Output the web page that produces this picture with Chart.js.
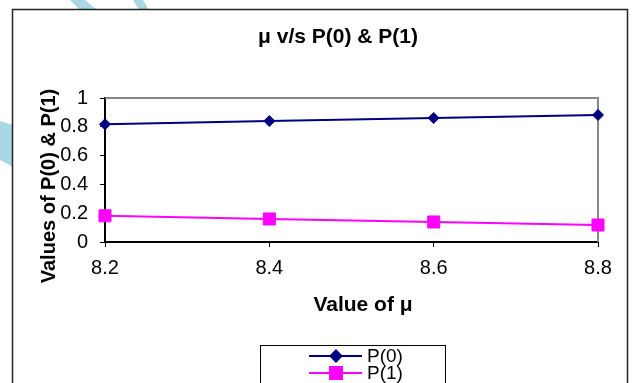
<!DOCTYPE html>
<html>
<head>
<meta charset="utf-8">
<script src="https://cdn.jsdelivr.net/npm/chart.js@4.4.1/dist/chart.umd.min.js"></script>
<style>
  html, body { margin: 0; padding: 0; background: #fff; }
  #wrap { width: 632px; height: 383px; }
</style>
</head>
<body>
<div id="wrap"><canvas id="muChart" width="632" height="383"></canvas></div>
<script>
var muValues = ['8.2', '8.4', '8.6', '8.8'];
var p0Values = [0.818, 0.840, 0.861, 0.882];
var p1Values = [0.182, 0.160, 0.139, 0.118];
var yTicks = [0, 0.2, 0.4, 0.6, 0.8, 1];

var chartTitle = 'μ v/s P(0) & P(1)';
var xTitle = 'Value of μ';
var yTitle = 'Values of P(0) & P(1)';

var FONT = 'Arial, "Liberation Sans", sans-serif';

// frame, background swoosh, titles and the boxed legend
var decor = {
    id: 'decor',
    beforeDraw: function(chart) {
        var ctx = chart.ctx;
        ctx.save();
        ctx.fillStyle = '#fff';
        ctx.fillRect(0, 0, chart.width, chart.height);
        ctx.fillStyle = '#a9d7e4';
        ctx.beginPath();
        ctx.moveTo(70, 0); ctx.lineTo(85, 0); ctx.lineTo(97, 10); ctx.lineTo(80, 10);
        ctx.closePath(); ctx.fill();
        ctx.beginPath();
        ctx.moveTo(133, 0); ctx.lineTo(143, 0); ctx.lineTo(149, 10); ctx.lineTo(139, 10);
        ctx.closePath(); ctx.fill();
        ctx.beginPath();
        ctx.moveTo(0, 121); ctx.lineTo(13, 125); ctx.lineTo(13, 167); ctx.lineTo(0, 160);
        ctx.closePath(); ctx.fill();
        ctx.fillStyle = '#fff';
        ctx.fillRect(12, 9, 616, 400);
        ctx.strokeStyle = '#222';
        ctx.lineWidth = 1.5;
        ctx.strokeRect(12.5, 9.5, 615, 400);
        ctx.restore();
    },
    beforeDatasetsDraw: function(chart) {
        var a = chart.chartArea, ctx = chart.ctx;
        ctx.save();
        ctx.strokeStyle = '#888';
        ctx.lineWidth = 2;
        ctx.beginPath();
        ctx.moveTo(a.left, a.top); ctx.lineTo(a.right, a.top); ctx.lineTo(a.right, a.bottom);
        ctx.stroke();
        ctx.restore();
    },
    afterDraw: function(chart) {
        var ctx = chart.ctx;
        ctx.save();
        ctx.fillStyle = '#000';
        ctx.textAlign = 'center';
        ctx.textBaseline = 'middle';
        ctx.font = 'bold 21px ' + FONT;
        ctx.fillText(chartTitle, 338, 37);
        ctx.fillText(xTitle, 363, 305);
        ctx.translate(49, 186);
        ctx.rotate(-Math.PI / 2);
        ctx.font = 'bold 20px ' + FONT;
        ctx.fillText(yTitle, 0, 0);
        ctx.restore();

        // legend box
        ctx.save();
        ctx.strokeStyle = '#000';
        ctx.lineWidth = 1;
        ctx.strokeRect(260.5, 345.5, 185, 60);
        chart.data.datasets.forEach(function(ds, i) {
            var y = 356 + i * 17;
            ctx.strokeStyle = ds.borderColor;
            ctx.lineWidth = 2;
            ctx.beginPath();
            ctx.moveTo(309, y); ctx.lineTo(362, y);
            ctx.stroke();
            Chart.helpers.drawPoint(ctx, {
                pointStyle: ds.pointStyle, radius: ds.pointRadius, borderWidth: 1
            }, 336, y);
            ctx.fillStyle = ds.borderColor;
            ctx.fill();
            ctx.fillStyle = '#000';
            ctx.font = '19px ' + FONT;
            ctx.textAlign = 'left';
            ctx.textBaseline = 'middle';
            ctx.fillText(ds.label, 367, y + 1);
        });
        ctx.restore();
    }
};

new Chart(document.getElementById('muChart').getContext('2d'), {
    type: 'line',
    data: {
        labels: muValues,
        datasets: [
            {
                label: 'P(0)',
                data: p0Values,
                borderColor: '#000080',
                backgroundColor: '#000080',
                borderWidth: 2,
                pointStyle: 'rectRot',
                pointRadius: 5.5,
                pointBorderWidth: 1,
                tension: 0
            },
            {
                label: 'P(1)',
                data: p1Values,
                borderColor: '#ff00ff',
                backgroundColor: '#ff00ff',
                borderWidth: 2,
                pointStyle: 'rect',
                pointRadius: 8.5,
                pointBorderWidth: 1,
                tension: 0
            }
        ]
    },
    options: {
        responsive: false,
        animation: false,
        layout: { padding: { left: 0, right: 34, top: 98, bottom: 0 } },
        plugins: {
            legend: { display: false },
            title: { display: false },
            tooltip: { enabled: false }
        },
        scales: {
            x: {
                type: 'category',
                offset: false,
                afterFit: function(s) { s.height = 141; },
                grid: { display: true, drawOnChartArea: false, offset: false, tickLength: 5, color: '#000' },
                border: { color: '#000', width: 2 },
                ticks: { color: '#000', padding: 9, maxRotation: 0, font: { family: FONT, size: 20 } }
            },
            y: {
                min: 0,
                max: 1,
                afterFit: function(s) { s.width = 105; },
                afterBuildTicks: function(s) { s.ticks = yTicks.map(function(v) { return { value: v }; }); },
                grid: { display: true, drawOnChartArea: false, tickLength: 5, color: '#000' },
                border: { color: '#000', width: 2 },
                ticks: {
                    color: '#000', padding: 12, font: { family: FONT, size: 20 },
                    callback: function(v) { return String(+Number(v).toFixed(1)); }
                }
            }
        }
    },
    plugins: [decor]
});
</script>
</body>
</html>
